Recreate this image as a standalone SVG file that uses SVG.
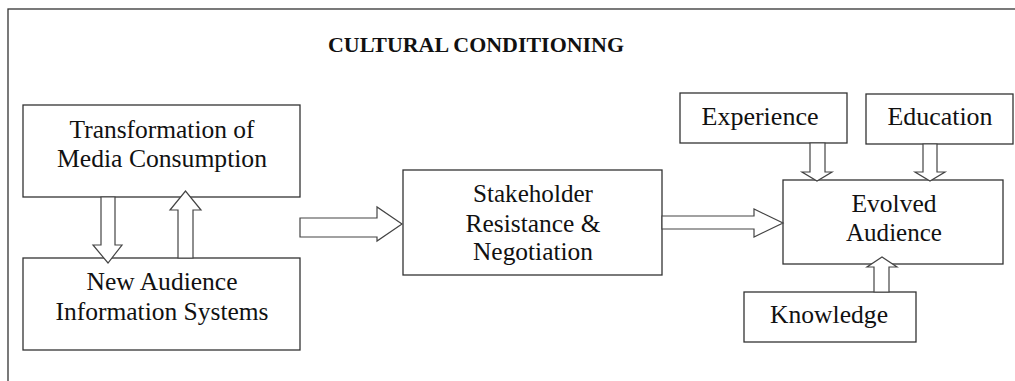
<svg xmlns="http://www.w3.org/2000/svg" width="1015" height="381" viewBox="0 0 1015 381">
<style>
.box{fill:#fff;stroke:#333;stroke-width:1.3}
.t{font-family:"Liberation Serif","Times New Roman",serif;font-size:25px;fill:#111;text-anchor:middle}
.title{font-family:"Liberation Serif","Times New Roman",serif;font-size:22px;font-weight:bold;fill:#111}
.arr{fill:#fff;stroke:#444;stroke-width:1.2;stroke-linejoin:miter}
</style>
<rect x="0" y="0" width="1015" height="381" fill="#fff"/>
<rect id="frame" x="8" y="9" width="1020" height="380" fill="none" stroke="#333" stroke-width="1.3"/>
<text class="title" x="328" y="52" textLength="296" lengthAdjust="spacingAndGlyphs">CULTURAL CONDITIONING</text>

<g id="transformation">
<rect class="box" x="23" y="105" width="277" height="92"/>
<text class="t" x="162" y="138" textLength="185" lengthAdjust="spacingAndGlyphs">Transformation of</text>
<text class="t" x="162" y="167" textLength="210" lengthAdjust="spacingAndGlyphs">Media Consumption</text>
</g>
<g id="newaudience">
<rect class="box" x="23" y="258" width="277" height="92"/>
<text class="t" x="162" y="290" textLength="151" lengthAdjust="spacingAndGlyphs">New Audience</text>
<text class="t" x="162" y="320" textLength="213" lengthAdjust="spacingAndGlyphs">Information Systems</text>
</g>
<g id="stakeholder">
<rect class="box" x="403" y="170" width="259" height="105"/>
<text class="t" x="533" y="202" textLength="120" lengthAdjust="spacingAndGlyphs">Stakeholder</text>
<text class="t" x="533" y="232" textLength="135" lengthAdjust="spacingAndGlyphs">Resistance &amp;</text>
<text class="t" x="533" y="260" textLength="120" lengthAdjust="spacingAndGlyphs">Negotiation</text>
</g>
<g id="evolved">
<rect class="box" x="783" y="180" width="220" height="84"/>
<text class="t" x="894" y="212" textLength="85" lengthAdjust="spacingAndGlyphs">Evolved</text>
<text class="t" x="894" y="241" textLength="96" lengthAdjust="spacingAndGlyphs">Audience</text>
</g>
<g id="experience">
<rect class="box" x="680" y="93" width="167" height="50"/>
<text class="t" x="760" y="125" textLength="117" lengthAdjust="spacingAndGlyphs">Experience</text>
</g>
<g id="education">
<rect class="box" x="866" y="94" width="147" height="50"/>
<text class="t" x="940" y="125" textLength="105" lengthAdjust="spacingAndGlyphs">Education</text>
</g>
<g id="knowledge">
<rect class="box" x="744" y="292" width="172" height="50"/>
<text class="t" x="829" y="323" textLength="118" lengthAdjust="spacingAndGlyphs">Knowledge</text>
</g>

<g id="connectors">
<polygon class="arr" points="101,197 115,197 115,245 122,245 108,263 93,245 101,245"/>
<polygon class="arr" points="178,258 193,258 193,210 201,210 185.5,191 170,210 178,210"/>
<polygon class="arr" points="300,218 377,218 377,207 402,224 377,241 377,237 300,237"/>
<polygon class="arr" points="662,216 754,216 754,209 783,223 754,237 754,229 662,229"/>
<polygon class="arr" points="810,143 825,143 825,172 832,172 817,181 802,172 810,172"/>
<polygon class="arr" points="923,144 937,144 937,172 945,172 930,181 915,172 923,172"/>
<polygon class="arr" points="874,292 889,292 889,267 897,267 882,257 867,267 874,267"/>
</g>
</svg>
